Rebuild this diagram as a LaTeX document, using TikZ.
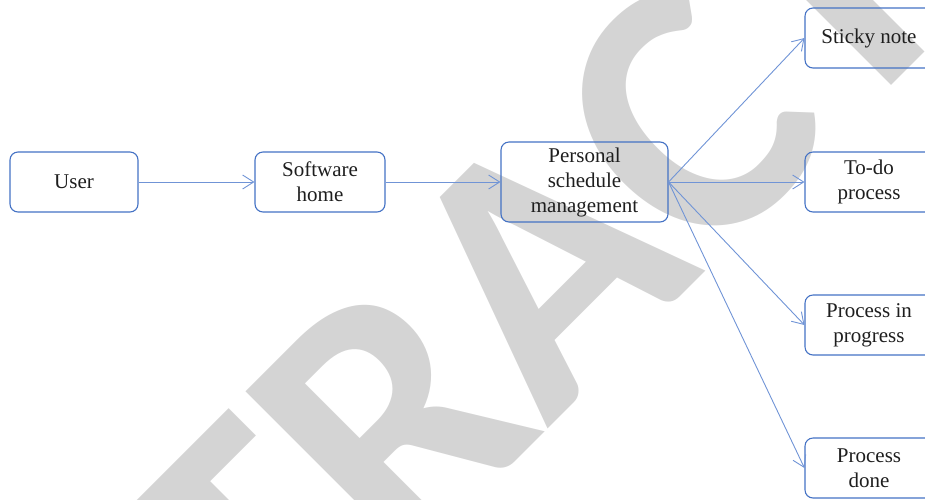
\documentclass[tikz,border=0pt]{standalone}
\usepackage{fontspec}
\setmainfont{Liberation Serif}
\newfontfamily\wmfont{Carlito}
\usetikzlibrary{arrows.meta}
\definecolor{boxblue}{RGB}{68,114,196}
\definecolor{arrowblue}{RGB}{112,148,214}
\definecolor{wmgray}{RGB}{212,212,212}
\definecolor{txt}{RGB}{30,30,30}
\tikzset{
  box/.style={draw=boxblue, line width=1.1pt, rounded corners=8pt, inner sep=0pt,
    minimum width=128pt, minimum height=60pt, align=center, text=txt,
    font=\fontsize{21}{25}\selectfont},
  conn/.style={draw=arrowblue, line width=0.9pt,
    -{Straight Barb[length=11pt,width=14pt,line width=0.9pt]}},
  wm/.style={text=wmgray, inner sep=0pt, font=\wmfont\bfseries\fontsize{370}{370}\selectfont}
}
\begin{document}
\begin{tikzpicture}[x=1pt,y=-1pt]
\useasboundingbox (0,0) rectangle (925,499);
\clip (0,0) rectangle (925,499);
\node[wm, rotate=45, anchor=base west] (wmark) at (-4,981) {RETRACTED};
\node[box] (user) at (74,182) {User};
\node[box, minimum width=130pt] (home) at (320,182) {Software\\home};
\node[box, minimum width=167pt, minimum height=80pt] (psm) at (584.5,182) {Personal\\schedule\\management};
\node[box] (sticky) at (869,38) {Sticky note};
\node[box] (todo) at (869,182) {To-do\\process};
\node[box] (prog) at (869,325) {Process in\\progress};
\node[box] (done) at (869,468) {Process\\done};
\draw[conn] (user.east) -- (home.west);
\draw[conn] (home.east) -- (psm.west);
\draw[conn] (psm.east) -- (sticky.west);
\draw[conn] (psm.east) -- (todo.west);
\draw[conn] (psm.east) -- (prog.west);
\draw[conn] (psm.east) -- (done.west);
\end{tikzpicture}
\end{document}
